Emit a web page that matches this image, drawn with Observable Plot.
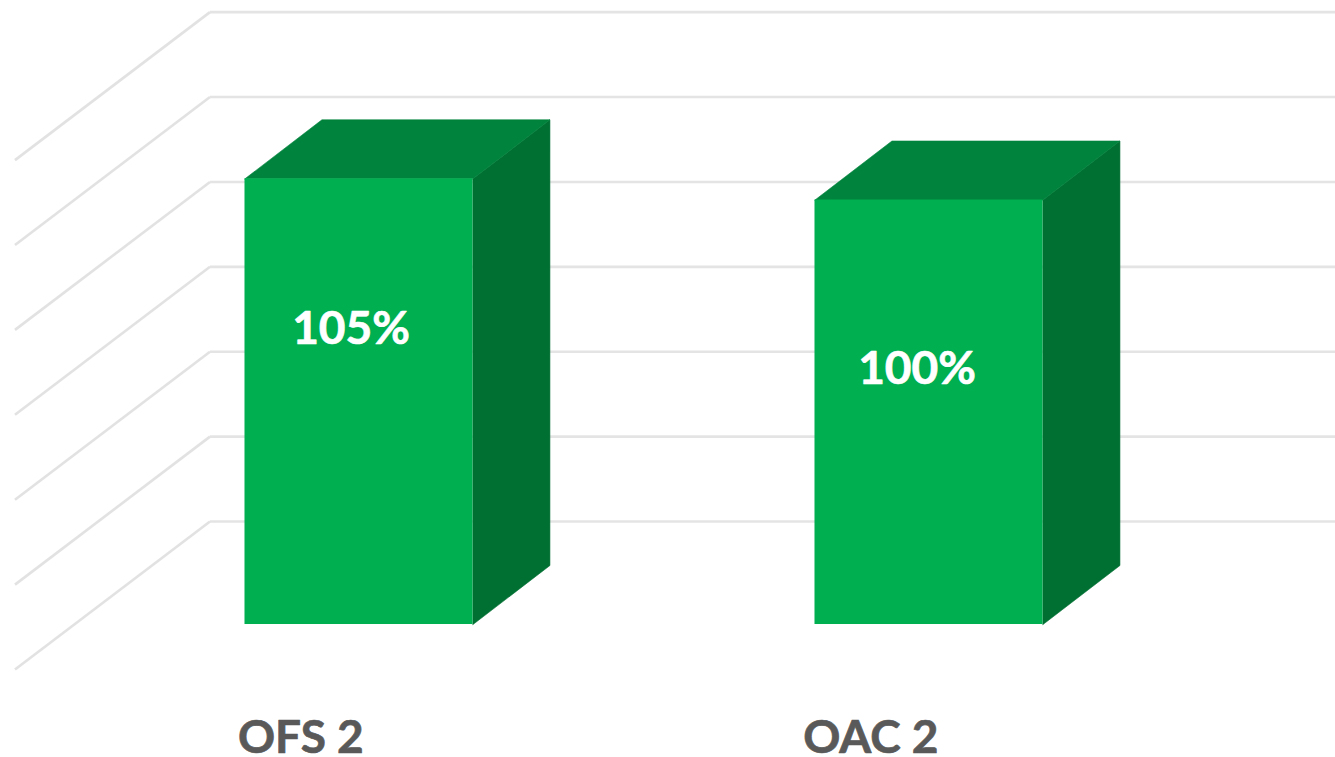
<!DOCTYPE html>
<html>
<head>
<meta charset="utf-8">
<script src="https://cdn.jsdelivr.net/npm/d3@7"></script>
<script src="https://cdn.jsdelivr.net/npm/@observablehq/plot@0.6"></script>
<style>html,body{margin:0;padding:0;background:#fff;overflow:hidden}svg{display:block}</style>
</head>
<body>
<div id="chart"></div>
<script>
// Chart values
const categories = ["OFS 2", "OAC 2"];
const values = [105, 100];
const valueLabels = ["105%", "100%"];
const gridValues = [0, 20, 40, 60, 80, 100, 120];
// Height (in % units) at which each value label sits, and horizontal shifts (in category units)
const valueLabelLevels = [69.6, 60.2];
const valueLabelShift = [-0.014, -0.021];
const categoryLabelShift = [-0.102, -0.102];

// Oblique 3D layout, in data units
const barWidth = 0.4;
const depthX = 0.135, depthY = 13.9;
const wallFrontX = -0.6035, wallBackX = -0.2614, xEnd = 1.7123;
const wallBackLift = 24.26, wallFrontDrop = -10.6;

const pos = categories.map((c, i) => i);
const bars = categories.map((c, i) => ({c, i, v: values[i], x0: pos[i] - barWidth / 2, x1: pos[i] + barWidth / 2}));
const grid = gridValues.map(g => ({g}));

const topFaces = bars.flatMap(b => [
  {k: b.c, x: b.x0, y: b.v},
  {k: b.c, x: b.x0 + depthX, y: b.v + depthY},
  {k: b.c, x: b.x1 + depthX, y: b.v + depthY},
  {k: b.c, x: b.x1, y: b.v}
]);
const sideFaces = bars.flatMap(b => [
  {k: b.c, x: b.x1, y: 0},
  {k: b.c, x: b.x1 + depthX, y: depthY},
  {k: b.c, x: b.x1 + depthX, y: b.v + depthY},
  {k: b.c, x: b.x1, y: b.v}
]);

const plot = Plot.plot({
  width: 1335,
  height: 757,
  margin: 0,
  style: {background: "#fff"},
  x: {type: "linear", domain: [-0.6298, xEnd], range: [-0.5, 1334.5], axis: null},
  y: {type: "linear", domain: [-31.33, 147], range: [757, 0], axis: null},
  marks: [
    Plot.link(grid, {
      x1: wallFrontX, x2: wallBackX,
      y1: d => d.g + wallFrontDrop, y2: d => d.g + wallBackLift,
      stroke: "#e2e2e2", strokeWidth: 2.6
    }),
    Plot.link(grid, {
      x1: wallBackX, x2: xEnd,
      y1: d => d.g + wallBackLift, y2: d => d.g + wallBackLift,
      stroke: "#e4e4e4", strokeWidth: 2.6
    }),
    Plot.line(sideFaces, {x: "x", y: "y", z: "k", fill: "#006f32", stroke: "#006f32", strokeWidth: 0.6, curve: "linear-closed"}),
    Plot.line(topFaces, {x: "x", y: "y", z: "k", fill: "#00833c", stroke: "#00833c", strokeWidth: 0.6, curve: "linear-closed"}),
    Plot.rect(bars, {x1: "x0", x2: "x1", y1: 0, y2: "v", fill: "#00b050"}),
    Plot.text(bars, {
      x: d => pos[d.i] + valueLabelShift[d.i],
      y: d => valueLabelLevels[d.i],
      text: d => valueLabels[d.i],
      fill: "#fff", stroke: "#fff", strokeWidth: 0.7, fontSize: 46, fontWeight: 700, fontFamily: "Lato"
    }),
    Plot.text(bars, {
      x: d => pos[d.i] + categoryLabelShift[d.i],
      y: -26.9,
      text: "c",
      fill: "#595959", stroke: "#595959", strokeWidth: 0.7, fontSize: 46, fontWeight: 700, fontFamily: "Lato"
    })
  ]
});
document.getElementById("chart").append(plot);
</script>
</body>
</html>
